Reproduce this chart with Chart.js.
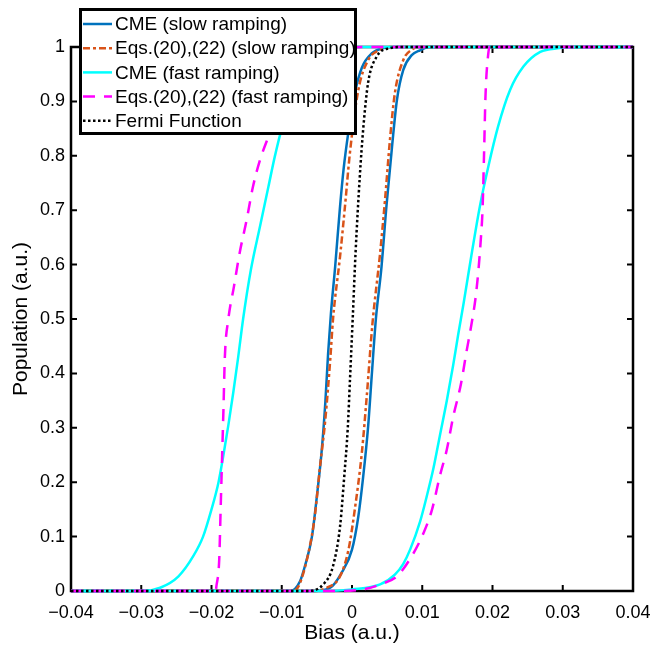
<!DOCTYPE html>
<html>
<head>
<meta charset="utf-8">
<title>Population vs Bias</title>
<script src="https://cdn.jsdelivr.net/npm/chart.js@4/dist/chart.umd.min.js"></script>
<style>
  body { margin: 0; background: #fff; }
  #wrap { width: 668px; height: 648px; }
</style>
</head>
<body>
<div id="wrap"><canvas id="popChart" width="668" height="648"></canvas></div>
<script>
// Ticks
const xTicks = [-0.04, -0.03, -0.02, -0.01, 0, 0.01, 0.02, 0.03, 0.04]
const yTicks = [0, 0.1, 0.2, 0.3, 0.4, 0.5, 0.6, 0.7, 0.8, 0.9, 1]

// CME (slow ramping) - two sweeps
const cmeSlowDownX = [-0.04, -0.0088, -0.0074, -0.0067, -0.0057, -0.005, -0.0043, -0.0038, -0.0034, -0.003, -0.0024, -0.0017, -0.0012, -0.0005, 0.0004, 0.0014, 0.0028, 0.0045, 0.006, 0.04]
const cmeSlowDownY = [0, 0, 0.018, 0.046, 0.1, 0.174, 0.26, 0.346, 0.437, 0.51, 0.596, 0.707, 0.775, 0.845, 0.915, 0.962, 0.988, 0.998, 1, 1]
const cmeSlowUpX = [-0.04, -0.0055, -0.0031, -0.0015, 0, 0.0009, 0.0016, 0.0023, 0.0028, 0.0034, 0.0042, 0.0049, 0.0057, 0.0064, 0.0073, 0.0085, 0.0097, 0.011, 0.04]
const cmeSlowUpY = [0, 0, 0.006, 0.033, 0.076, 0.137, 0.211, 0.303, 0.394, 0.5, 0.596, 0.707, 0.817, 0.903, 0.958, 0.985, 0.994, 1, 1]

// Eqs.(20),(22) (slow ramping)
const eqSlowDownX = [-0.04, -0.0084, -0.0076, -0.0062, -0.0053, -0.0046, -0.0038, -0.0031, -0.0027, -0.0017, -0.001, -0.0003, 0.0009, 0.0023, 0.004, 0.0055, 0.04]
const eqSlowDownY = [0, 0, 0.009, 0.07, 0.137, 0.223, 0.315, 0.425, 0.5, 0.615, 0.707, 0.805, 0.921, 0.976, 0.995, 1, 1]
const eqSlowUpX = [-0.04, -0.0055, -0.0036, -0.0017, -0.0005, 0.0004, 0.0014, 0.0021, 0.0029, 0.004, 0.0047, 0.0054, 0.0061, 0.0073, 0.0085, 0.01, 0.04]
const eqSlowUpY = [0, 0, 0.006, 0.027, 0.076, 0.15, 0.254, 0.358, 0.49, 0.621, 0.719, 0.829, 0.915, 0.976, 0.995, 1, 1]

// CME (fast ramping)
const cmeFastDownX = [-0.04, -0.0297, -0.0273, -0.0247, -0.0226, -0.0212, -0.02, -0.019, -0.0183, -0.0176, -0.0169, -0.0162, -0.0155, -0.0144, -0.0131, -0.0119, -0.011, -0.01, -0.0085, -0.0068, -0.005, -0.003, -0.001, 0.001, 0.04]
const cmeFastDownY = [0, 0, 0.006, 0.027, 0.064, 0.1, 0.15, 0.2, 0.25, 0.305, 0.365, 0.43, 0.5, 0.59, 0.67, 0.743, 0.798, 0.85, 0.91, 0.95, 0.975, 0.99, 0.998, 1, 1]
const cmeFastUpX = [-0.04, -0.004, 0, 0.004, 0.0061, 0.0073, 0.0083, 0.0097, 0.0106, 0.0116, 0.0125, 0.0135, 0.0144, 0.0151, 0.0159, 0.0171, 0.0182, 0.0194, 0.0208, 0.0225, 0.0244, 0.0268, 0.0296, 0.031, 0.04]
const cmeFastUpY = [0, 0, 0.003, 0.012, 0.03, 0.05, 0.077, 0.128, 0.172, 0.226, 0.285, 0.35, 0.415, 0.47, 0.53, 0.625, 0.707, 0.78, 0.854, 0.921, 0.964, 0.991, 0.998, 1, 1]

// Eqs.(20),(22) (fast ramping)
const eqFastDownX = [-0.04, -0.0194, -0.0193, -0.0189, -0.0187, -0.0185, -0.0183, -0.0181, -0.0176, -0.0168, -0.016, -0.015, -0.0141, -0.0131, -0.0119, -0.0105, -0.009, -0.007, -0.005, -0.003, 0, 0.002, 0.04]
const eqFastDownY = [0, 0, 0.009, 0.058, 0.15, 0.242, 0.333, 0.43, 0.5, 0.56, 0.621, 0.682, 0.743, 0.792, 0.835, 0.88, 0.92, 0.96, 0.985, 0.995, 0.999, 1, 1]
const eqFastUpX = [-0.04, -0.002, 0.002, 0.004, 0.0064, 0.0085, 0.0102, 0.0114, 0.0125, 0.0135, 0.0144, 0.0155, 0.0163, 0.017, 0.0176, 0.018, 0.0183, 0.0186, 0.0188, 0.019, 0.0194, 0.0196, 0.04]
const eqFastUpY = [0, 0, 0.004, 0.012, 0.027, 0.064, 0.107, 0.15, 0.211, 0.26, 0.32, 0.38, 0.44, 0.49, 0.54, 0.59, 0.64, 0.707, 0.805, 0.909, 0.988, 1, 1]

// Fermi Function
const fermiX = [-0.04, -0.0065, -0.0041, -0.0027, -0.0017, -0.0011, -0.0006, -0.0003, 0.0001, 0.0005, 0.0011, 0.0016, 0.0023, 0.0035, 0.0054, 0.007, 0.04]
const fermiY = [0, 0, 0.012, 0.046, 0.119, 0.211, 0.3, 0.385, 0.5, 0.62, 0.76, 0.85, 0.935, 0.982, 0.998, 1, 1]

const FONT = "'Liberation Sans', Arial, Helvetica, sans-serif"

// estilos de cada serie
const styles = {
  cmeSlow: { label: "CME (slow ramping)", color: "#0072BD", dash: [], width: 2.5 },
  eqSlow: { label: "Eqs.(20),(22) (slow ramping)", color: "#D95319", dash: [7, 3, 3, 3], width: 2.5 },
  cmeFast: { label: "CME (fast ramping)", color: "#00FFFF", dash: [], width: 2.5 },
  eqFast: { label: "Eqs.(20),(22) (fast ramping)", color: "#FF00FF", dash: [12, 9], width: 2.5 },
  fermi: { label: "Fermi Function", color: "#000000", dash: [2.5, 2.5], width: 2.5 },
}
const legendOrder = ["cmeSlow", "eqSlow", "cmeFast", "eqFast", "fermi"]

function makeLine(key, xs, ys) {
  const s = styles[key]
  return {
    label: s.label,
    data: xs.map((x, i) => ({ x: x, y: ys[i] })),
    borderColor: s.color,
    backgroundColor: s.color,
    borderDash: s.dash,
    borderWidth: s.width,
    borderCapStyle: "butt",
    pointRadius: 0,
    fill: false,
    cubicInterpolationMode: "monotone",
    clip: 4,
  }
}

// el primer dataset se dibuja encima
const datasets = [
  makeLine("fermi", fermiX, fermiY),
  makeLine("eqFast", eqFastDownX, eqFastDownY),
  makeLine("eqFast", eqFastUpX, eqFastUpY),
  makeLine("cmeFast", cmeFastDownX, cmeFastDownY),
  makeLine("cmeFast", cmeFastUpX, cmeFastUpY),
  makeLine("eqSlow", eqSlowDownX, eqSlowDownY),
  makeLine("eqSlow", eqSlowUpX, eqSlowUpY),
  makeLine("cmeSlow", cmeSlowDownX, cmeSlowDownY),
  makeLine("cmeSlow", cmeSlowUpX, cmeSlowUpY),
]

// etiqueta con signo menos tipográfico, como MATLAB
function tickLabel(value) {
  return String(value).replace("-", "\u2212")
}

// Marco y ticks hacia adentro (estilo MATLAB)
const framePlugin = {
  id: "frame",
  beforeDatasetsDraw(chart) {
    const { ctx, chartArea: a, scales } = chart
    ctx.save()
    ctx.strokeStyle = "#000"
    ctx.lineWidth = 2
    ctx.beginPath()
    xTicks.forEach((v) => {
      const px = scales.x.getPixelForValue(v)
      ctx.moveTo(px, a.bottom)
      ctx.lineTo(px, a.bottom - 6)
      ctx.moveTo(px, a.top)
      ctx.lineTo(px, a.top + 6)
    })
    yTicks.forEach((v) => {
      const py = scales.y.getPixelForValue(v)
      ctx.moveTo(a.left, py)
      ctx.lineTo(a.left + 6, py)
      ctx.moveTo(a.right, py)
      ctx.lineTo(a.right - 6, py)
    })
    ctx.stroke()
    ctx.lineWidth = 2.5
    ctx.strokeRect(a.left, a.top, a.right - a.left, a.bottom - a.top)
    ctx.restore()
  },
}

// Leyenda en recuadro
const legendPlugin = {
  id: "boxLegend",
  afterDraw(chart) {
    const ctx = chart.ctx
    const box = { x: 79, y: 8, w: 278, h: 127 }
    ctx.save()
    ctx.fillStyle = "#fff"
    ctx.fillRect(box.x, box.y, box.w, box.h)
    ctx.strokeStyle = "#000"
    ctx.lineWidth = 3
    ctx.strokeRect(box.x + 1.5, box.y + 1.5, box.w - 3, box.h - 3)
    ctx.font = `19px ${FONT}`
    ctx.textBaseline = "middle"
    ctx.textAlign = "left"
    legendOrder.forEach((key, i) => {
      const s = styles[key]
      const y = 24 + i * 24.2
      ctx.beginPath()
      ctx.strokeStyle = s.color
      ctx.lineWidth = s.width
      ctx.lineCap = "butt"
      ctx.setLineDash(s.dash)
      ctx.moveTo(83, y)
      ctx.lineTo(112, y)
      ctx.stroke()
      ctx.setLineDash([])
      ctx.fillStyle = "#000"
      ctx.fillText(s.label, 115, y + 1)
    })
    ctx.restore()
  },
}

const ctx = document.getElementById("popChart").getContext("2d")
new Chart(ctx, {
  type: "line",
  data: { datasets: datasets },
  options: {
    responsive: false,
    animation: false,
    devicePixelRatio: 1,
    layout: { padding: { top: 47, right: 35, left: 0, bottom: 0 } },
    plugins: {
      legend: { display: false },
      tooltip: { enabled: false },
    },
    scales: {
      x: {
        type: "linear",
        min: -0.04,
        max: 0.04,
        grid: { display: false, drawTicks: false },
        border: { display: false },
        afterBuildTicks: (scale) => {
          scale.ticks = xTicks.map((v) => ({ value: v }))
        },
        afterFit: (scale) => {
          scale.height = 57
        },
        ticks: {
          color: "#000",
          font: { family: FONT, size: 18 },
          padding: 11,
          maxRotation: 0,
          autoSkip: false,
          callback: tickLabel,
        },
        title: {
          display: true,
          text: "Bias (a.u.)",
          color: "#000",
          font: { family: FONT, size: 21 },
          padding: { top: 0, bottom: 2 },
        },
      },
      y: {
        type: "linear",
        min: 0,
        max: 1,
        grid: { display: false, drawTicks: false },
        border: { display: false },
        afterBuildTicks: (scale) => {
          scale.ticks = yTicks.map((v) => ({ value: v }))
        },
        afterFit: (scale) => {
          scale.width = 71
        },
        ticks: {
          color: "#000",
          font: { family: FONT, size: 18 },
          padding: 6,
          autoSkip: false,
          callback: tickLabel,
        },
        title: {
          display: true,
          text: "Population (a.u.)",
          color: "#000",
          font: { family: FONT, size: 21 },
          padding: { top: 9, bottom: 0 },
        },
      },
    },
  },
  plugins: [framePlugin, legendPlugin],
})
</script>
</body>
</html>
